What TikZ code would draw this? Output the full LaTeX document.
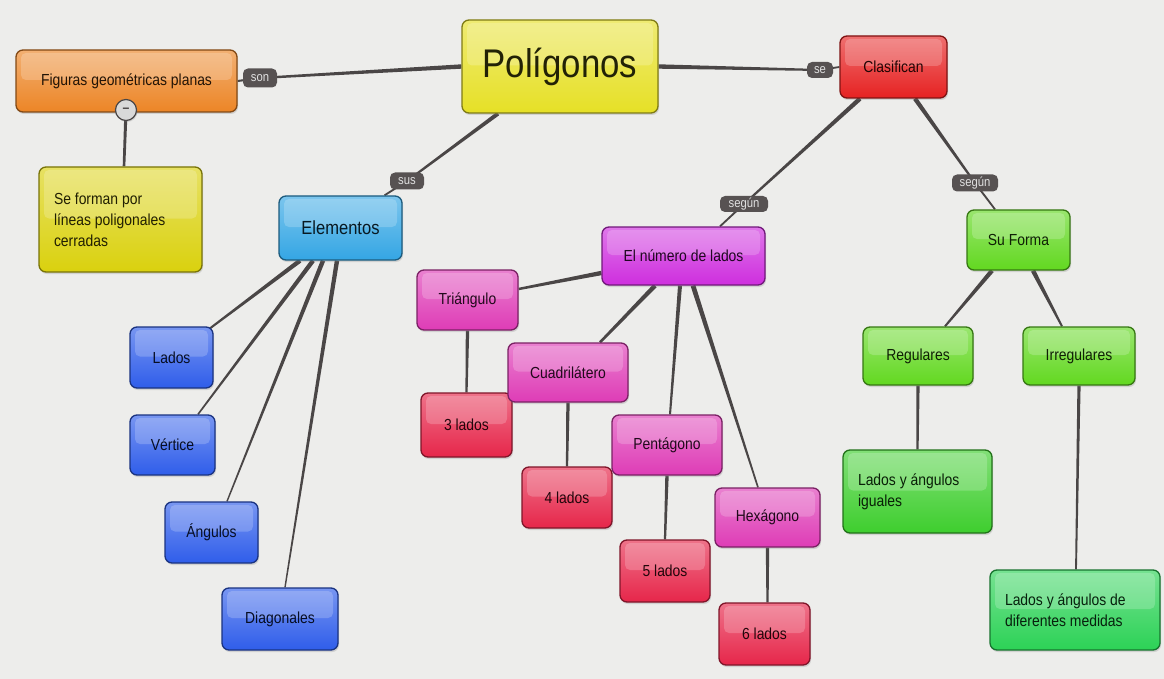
\documentclass[tikz,border=0pt]{standalone}
\usepackage{fontspec}
\setmainfont{Liberation Sans}[FakeStretch=0.87]
\usetikzlibrary{calc,shadows}
\pgfdeclarelayer{bg}
\pgfdeclarelayer{lines}
\pgfsetlayers{bg,lines,main}
\definecolor{bgc}{HTML}{EDEDEB}
\definecolor{linec}{HTML}{4A4646}
\definecolor{labc}{HTML}{575252}
\definecolor{cOrange}{HTML}{EC8526}
\definecolor{cYellow}{HTML}{E6E026}
\definecolor{cYellowB}{HTML}{DAD10E}
\definecolor{cSky}{HTML}{34A6E4}
\definecolor{cBlue}{HTML}{2F5DEA}
\definecolor{cRed}{HTML}{E62222}
\definecolor{cPurple}{HTML}{CE2EDE}
\definecolor{cMagenta}{HTML}{DE3CB6}
\definecolor{cCrimson}{HTML}{E6264A}
\definecolor{cGreen}{HTML}{62D820}
\definecolor{cGreenB}{HTML}{3ECE2E}
\definecolor{cTeal}{HTML}{2CD256}
\newcommand\conn[4]{\fill[linec] ($(#1)!#3!90:(#2)$) -- ($(#2)!#4!-90:(#1)$) -- ($(#2)!#4!90:(#1)$) -- ($(#1)!#3!-90:(#2)$) -- cycle;}
\tikzset{
  box/.style={rounded corners=7pt, line width=1.3pt, draw=#1!55!black,
    top color=#1!65!white, bottom color=#1, text=#1!15!black,
    drop shadow={opacity=0.25, shadow xshift=1pt, shadow yshift=-2pt},
    inner sep=0pt, align=center, font=\fontsize{16}{21}\selectfont,
    path picture={\fill[white, fill opacity=0.2, rounded corners=5pt]
      ([xshift=5pt,yshift=-3pt]path picture bounding box.north west) rectangle
      ([xshift=-5pt,yshift=1pt]path picture bounding box.east);}},
  sz/.style 2 args={minimum width=#1pt, minimum height=#2pt},
  lab/.style={fill=labc, rounded corners=5pt, text=white!88!black, inner sep=0pt,
    font=\fontsize{13}{15}\selectfont},
}
\begin{document}
\begin{tikzpicture}[x=1pt,y=-1pt]
\useasboundingbox (0,0) rectangle (1164,679);
\begin{pgfonlayer}{bg}
\fill[bgc] (0,0) rectangle (1164,679);
\end{pgfonlayer}

% main nodes
\node[box=cYellow, sz={196}{93}, font=\fontsize{40}{44}\selectfont] (poly) at (560,66.5) {Polígonos};
\node[box=cOrange, sz={221}{62}] (fig) at (126.5,81) {Figuras geométricas planas};
\node[box=cYellowB, sz={163}{105}, text width=133pt, align=flush left] (forman) at (120.5,219.5) {Se forman por\\líneas poligonales\\cerradas};
\node[box=cSky, sz={123}{64}, font=\fontsize{19}{22}\selectfont] (elem) at (340.5,228) {Elementos};
\node[box=cRed, sz={107}{62}] (clas) at (893.5,67) {Clasifican};
\node[box=cPurple, sz={163}{58}] (num) at (683.5,256) {El número de lados};
\node[box=cGreen, sz={103}{60}] (forma) at (1018.5,240) {Su Forma};
\node[box=cGreen, sz={110}{58}] (reg) at (918,356) {Regulares};
\node[box=cGreen, sz={112}{58}] (irr) at (1079,356) {Irregulares};
\node[box=cGreenB, sz={149}{83}, text width=119pt, align=flush left] (igual) at (917.5,491.5) {Lados y ángulos\\iguales};
\node[box=cTeal, sz={170}{80}, text width=140pt, align=flush left] (dif) at (1075,610) {Lados y ángulos de\\diferentes medidas};

\node[box=cBlue, sz={83}{61}] (lados) at (171.5,357.5) {Lados};
\node[box=cBlue, sz={85}{60}] (vert) at (172.5,445) {Vértice};
\node[box=cBlue, sz={93}{61}] (ang) at (211.5,532.5) {Ángulos};
\node[box=cBlue, sz={116}{62}] (diag) at (280,619) {Diagonales};

\node[box=cMagenta, sz={101}{60}] (tri) at (467.5,300) {Triángulo};
\node[box=cCrimson, sz={91}{64}] (l3) at (466.5,425) {3 lados};
\node[box=cMagenta, sz={120}{59}] (cuad) at (568,372.5) {Cuadrilátero};
\node[box=cCrimson, sz={90}{61}] (l4) at (567,497.5) {4 lados};
\node[box=cMagenta, sz={110}{60}] (pent) at (667,445) {Pentágono};
\node[box=cCrimson, sz={90}{62}] (l5) at (665,571) {5 lados};
\node[box=cMagenta, sz={105}{59}] (hexa) at (767.5,517.5) {Hexágono};
\node[box=cCrimson, sz={91}{62}] (l6) at (764.5,634) {6 lados};

% link labels
\node[lab, minimum width=34pt, minimum height=19pt] (son) at (260,78) {son};
\node[lab, minimum width=34pt, minimum height=17pt] (sus) at (407,181) {sus};
\node[lab, minimum width=26pt, minimum height=16pt] (se) at (820,70) {se};
\node[lab, minimum width=48pt, minimum height=16pt] (seg1) at (744,204) {según};
\node[lab, minimum width=46pt, minimum height=17pt] (seg2) at (975,183) {según};
\node[circle, fill=white!85!black, draw=linec, line width=1.2pt, minimum size=21pt, inner sep=0pt, font=\bfseries\fontsize{14}{14}\selectfont, text=linec,
  drop shadow={opacity=0.25, shadow xshift=1pt, shadow yshift=-1.5pt}] (minus) at (126,110) {--};

% anchor points
\coordinate (pS) at ($(poly.south)+(-62,0)$);
\coordinate (eN) at ($(elem.north)+(44,0)$);
\coordinate (cS1) at ($(clas.south)+(-33.5,0)$);
\coordinate (cS2) at ($(clas.south)+(21.5,0)$);
\coordinate (nN) at ($(num.north)+(36.5,0)$);
\coordinate (fN) at ($(forma.north)+(-23.5,0)$);
\coordinate (e1) at ($(elem.south)+(-40.5,0)$);
\coordinate (e2) at ($(elem.south)+(-27.5,0)$);
\coordinate (e3) at ($(elem.south)+(-17.5,0)$);
\coordinate (e4) at ($(elem.south)+(-3.5,0)$);
\coordinate (ladN) at ($(lados.north)+(38.5,2)$);
\coordinate (verN) at ($(vert.north)+(25.5,0)$);
\coordinate (angN) at ($(ang.north)+(15.5,0)$);
\coordinate (diaN) at ($(diag.north)+(5,0)$);
\coordinate (nW) at ($(num.west)+(0,17)$);
\coordinate (tE) at ($(tri.east)+(0,-11)$);
\coordinate (n1) at ($(num.south)+(-28.5,0)$);
\coordinate (n2) at ($(num.south)+(-3.5,0)$);
\coordinate (n3) at ($(num.south)+(9.5,0)$);
\coordinate (cuN) at ($(cuad.north)+(32,0)$);
\coordinate (peN) at ($(pent.north)+(3,0)$);
\coordinate (heN) at ($(hexa.north)+(-9.5,0)$);
\coordinate (l6N) at ($(l6.north)+(3,0)$);
\coordinate (f1) at ($(forma.south)+(-26.5,0)$);
\coordinate (f2) at ($(forma.south)+(14.5,0)$);
\coordinate (reN) at ($(reg.north)+(27,0)$);
\coordinate (irN) at ($(irr.north)+(-17,0)$);
\coordinate (difN) at ($(dif.north)+(1,0)$);
\coordinate (fgN) at ($(forman.north)+(3.5,0)$);

\begin{pgfonlayer}{lines}
\conn{poly.west}{son}{2.2pt}{1.1pt}
\conn{son}{fig.east}{1.1pt}{1pt}
\conn{pS}{sus}{2pt}{1pt}
\conn{sus}{eN}{1pt}{0.9pt}
\conn{poly.east}{se}{2.2pt}{1pt}
\conn{se}{clas.west}{1pt}{0.9pt}
\conn{cS1}{seg1}{2.2pt}{1pt}
\conn{seg1}{nN}{1pt}{0.9pt}
\conn{cS2}{seg2}{2.2pt}{1pt}
\conn{seg2}{fN}{1pt}{0.9pt}
\conn{minus}{fgN}{1.6pt}{1.3pt}
\conn{e1}{ladN}{2.2pt}{1pt}
\conn{e2}{verN}{2.2pt}{0.8pt}
\conn{e3}{angN}{2.2pt}{0.7pt}
\conn{e4}{diaN}{2.2pt}{0.7pt}
\conn{nW}{tE}{2.2pt}{1.2pt}
\conn{n1}{cuN}{2.2pt}{1.3pt}
\conn{n2}{peN}{2pt}{1pt}
\conn{n3}{heN}{2.4pt}{0.8pt}
\conn{tri.south}{l3.north}{1.7pt}{1.1pt}
\conn{cuad.south}{l4.north}{1.7pt}{1.1pt}
\conn{pent.south}{l5.north}{1.7pt}{1.1pt}
\conn{hexa.south}{l6N}{1.7pt}{1.1pt}
\conn{f1}{reN}{2.2pt}{1pt}
\conn{f2}{irN}{2.2pt}{1pt}
\conn{reg.south}{igual.north}{1.6pt}{1.1pt}
\conn{irr.south}{difN}{1.6pt}{0.9pt}
\end{pgfonlayer}
\end{tikzpicture}
\end{document}
